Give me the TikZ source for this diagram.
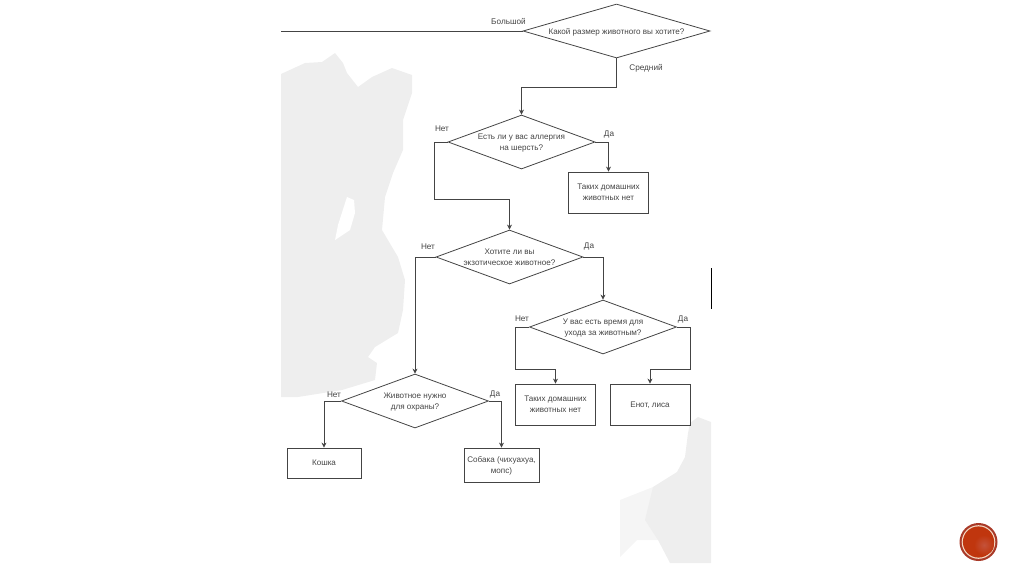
\documentclass[tikz,border=0pt]{standalone}
\usepackage{fontspec}
\setmainfont{Liberation Sans}
\usetikzlibrary{shapes.geometric, arrows.meta}
\definecolor{inkgray}{HTML}{444444}
\definecolor{smudge}{HTML}{EEEEEE}
\definecolor{smudgelight}{HTML}{F5F5F5}
\definecolor{badgered}{HTML}{C0360E}
\definecolor{badgerim}{HTML}{A93A28}
\definecolor{badgering}{HTML}{F3D9C4}
\definecolor{badgespot}{HTML}{C4523A}
\tikzset{
	question/.style={draw=inkgray, line width=0.8pt, shape=diamond, aspect=2.72, inner sep=-6pt, minimum width=147pt, minimum height=54pt, align=center, text=inkgray, text depth=0pt, font=\fontsize{8.1}{11}\selectfont},
	answer/.style={draw=inkgray, line width=0.8pt, shape=rectangle, minimum width=80pt, minimum height=41pt, align=center, text=inkgray, text depth=0pt, inner sep=1pt, font=\fontsize{8.1}{11}\selectfont},
	branch/.style={text=inkgray, inner sep=0pt, font=\fontsize{8.2}{10}\selectfont},
	flow/.style={->, draw=inkgray, line width=0.8pt},
}

\begin{document}
\begin{tikzpicture}[x=1pt, y=-1pt, >={Stealth[length=5pt, width=5pt]}]
	\useasboundingbox (0,0) rectangle (1024,574);

	% Smudges
	\fill[smudge] (281,74) -- (305,63) -- (322,62) -- (335,53) -- (343,63) -- (347,73) -- (358,87) -- (372,77) -- (392,68) -- (412,75) -- (412,93) -- (403,120) -- (403,150) -- (393,173) -- (385,197) -- (382,230) -- (398,257) -- (405,280) -- (403,310) -- (398,333) -- (375,347) -- (368,357) -- (377,363) -- (375,380) -- (342,390) -- (298,397) -- (281,397) -- cycle;
	\fill[white] (347,197) -- (338,225) -- (335,240) -- (350,230) -- (355,213) -- (354,200) -- cycle;
	\fill[smudgelight] (620,500) -- (653,487) -- (660,540) -- (637,540) -- (620,557) -- cycle;
	\fill[smudge] (690,423) -- (698,417) -- (711,422) -- (711,563) -- (670,563) -- (658,540) -- (645,520) -- (653,487) -- (677,472) -- (685,457) -- (688,433) -- cycle;

	% Questions
	\node[question, minimum width=187pt, aspect=3.46] (sizeq) at (616.5,31) {Какой размер животного вы хотите?};
	\node[question] (allergyq) at (521.5,142) {Есть ли у вас аллергия\\на шерсть?};
	\node[question] (exoticq) at (509.5,257) {Хотите ли вы\\экзотическое животное?};
	\node[question] (timeq) at (603,327) {У вас есть время для\\ухода за животным?};
	\node[question] (guardq) at (415,401) {Животное нужно\\для охраны?};

	% Answers
	\node[answer] (noneup) at (608.5,192.5) {Таких домашних\\животных нет};
	\node[answer] (nonedown) at (555.5,404.5) {Таких домашних\\животных нет};
	\node[answer] (raccoon) at (650,404.5) {Енот, лиса};
	\node[answer, minimum width=74pt, minimum height=30pt] (cat) at (324,463) {Кошка};
	\node[answer, minimum width=75pt, minimum height=34pt] (dog) at (501.5,465) {Собака (чихуахуа,\\мопс)};

	% Bends
	\coordinate (bigend) at (281,31);
	\coordinate (sizebend) at (521.5,87);
	\coordinate (allergybend) at (434,199);
	\coordinate (timeleft) at (515,369);
	\coordinate (timeright) at (690,369);
	\coordinate (stubtop) at (711,268);
	\coordinate (stubbottom) at (711,309);

	% Connectors
	\draw[draw=inkgray, line width=0.8pt] (sizeq.west) -- (bigend);
	\draw[flow] (sizeq.south) |- (sizebend) -- (allergyq.north);
	\draw[flow] (allergyq.east) -| (noneup.north);
	\draw[flow] (allergyq.west) -| (allergybend) -| (exoticq.north);
	\draw[flow] (exoticq.east) -| (timeq.north);
	\draw[flow] (exoticq.west) -| (guardq.north);
	\draw[flow] (timeq.west) -| (timeleft) -| (nonedown.north);
	\draw[flow] (timeq.east) -| (timeright) -| (raccoon.north);
	\draw[flow] (guardq.west) -| (cat.north);
	\draw[flow] (guardq.east) -| (dog.north);
	\draw[draw=black, line width=0.8pt] (stubtop) -- (stubbottom);

	% Branch labels
	\node[branch] (biglabel) at (508.5,21) {Большой};
	\node[branch] (midlabel) at (646,68) {Средний};
	\node[branch] (allergyno) at (442,128.5) {Нет};
	\node[branch] (allergyyes) at (609,134) {Да};
	\node[branch] (exoticno) at (428,246.5) {Нет};
	\node[branch] (exoticyes) at (589,246.5) {Да};
	\node[branch] (timeno) at (522,319) {Нет};
	\node[branch] (timeyes) at (683,319) {Да};
	\node[branch] (guardno) at (334,394.5) {Нет};
	\node[branch] (guardyes) at (495,394.5) {Да};

	% Badge
	\fill[badgerim] (978.5,542) circle (19);
	\fill[badgering] (978.5,542) circle (16.8);
	\fill[badgered] (978.5,542) circle (15.6);
	\shade[inner color=badgespot, outer color=badgered] (984,545) circle (10);
\end{tikzpicture}
\end{document}
